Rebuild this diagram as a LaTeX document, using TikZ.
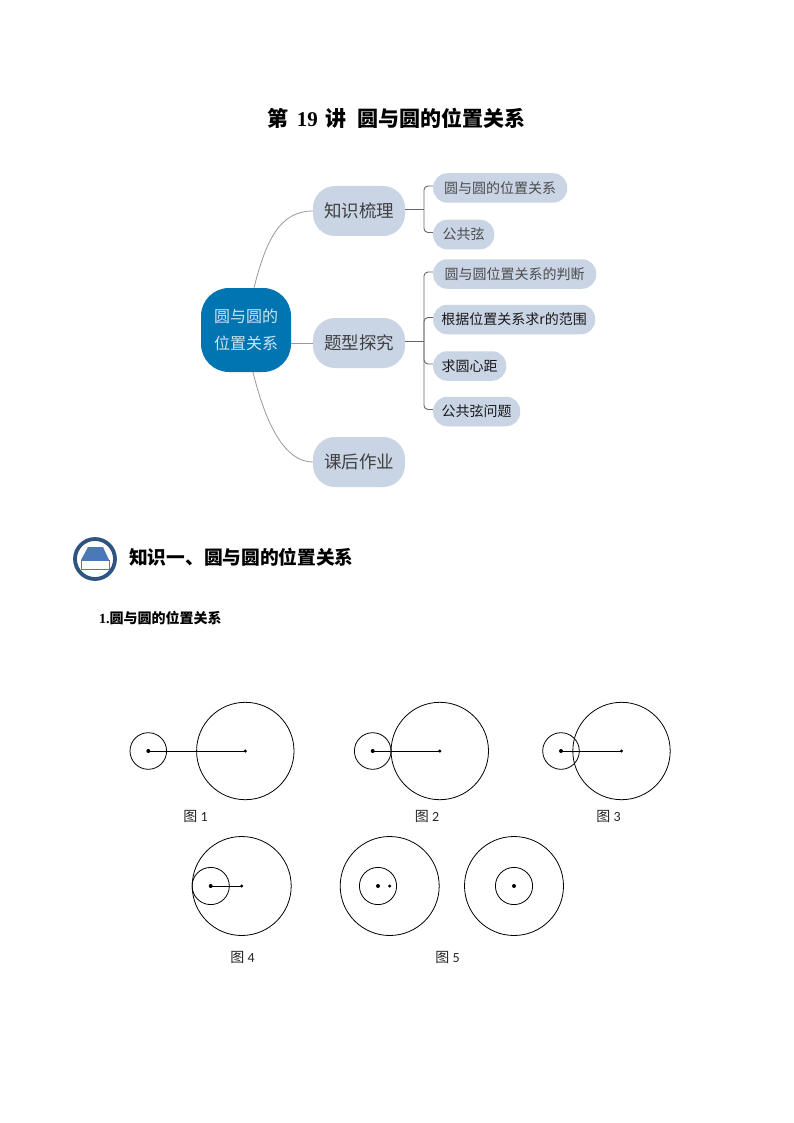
\documentclass[tikz,border=0pt]{standalone}
\usepackage{fontspec}
\setmainfont{Liberation Serif}
\newfontfamily\cjk{Noto Sans CJK SC}
\newfontfamily\capfont{Carlito}
\usepackage{xcolor}
\usetikzlibrary{positioning}
\definecolor{rootblue}{rgb}{0.0, 0.46, 0.70}
\definecolor{roottext}{rgb}{0.80, 0.90, 0.95}
\definecolor{paleblue}{rgb}{0.79, 0.83, 0.90}
\definecolor{ringblue}{rgb}{0.19, 0.33, 0.50}
\definecolor{iconblue}{rgb}{0.29, 0.47, 0.72}
\tikzset{
    rootbox/.style={fill=rootblue,rounded corners=28pt,minimum width=90pt,minimum height=84pt,
        inner sep=0pt,align=center,text=roottext,font=\cjk\fontsize{16}{27}\selectfont},
    midbox/.style={fill=paleblue,rounded corners=22pt,minimum width=92pt,minimum height=50pt,
        inner sep=0pt,text=black!75,font=\cjk\fontsize{17.5}{20}\selectfont},
    leafbox/.style={fill=paleblue,rounded corners=14pt,minimum width=#1,minimum height=29.5pt,
        inner sep=0pt,anchor=west,font=\cjk\fontsize{14}{16}\selectfont},
    curveline/.style={gray!80,line width=0.8pt},
    branchline/.style={black!60,line width=0.9pt,rounded corners=4pt},
    ring/.style={black,line width=0.8pt},
    captext/.style={inner sep=0pt,text=black!85,font=\capfont\fontsize{14}{15}\selectfont},
}
\begin{document}
\begin{tikzpicture}[x=1pt,y=-1pt]
\useasboundingbox[fill=white] (0,0) rectangle (794,1123);

% Title
\node[inner sep=0pt] (title) at (396.5,118) {\fontsize{21}{24}\selectfont\bfseries{\cjk 第}\hspace{8pt}19\hspace{8pt}{\cjk 讲}\hspace{10.5pt}{\cjk 圆与圆的位置关系}};

% Mind map boxes
\node[rootbox] (root) at (246,330) {圆与圆的\\位置关系};
\node[midbox] (zhishi) at (359,211) {知识梳理};
\node[midbox] (tixing) at (359,343) {题型探究};
\node[midbox] (kehou) at (359,462) {课后作业};

\foreach \name/\y/\w/\shade/\txt in {
    leafa/188/134pt/70/圆与圆的位置关系,
    leafb/234.5/61pt/70/公共弦,
    leafc/274/163pt/70/圆与圆位置关系的判断,
    leafd/319.5/162pt/90/根据位置关系求r的范围,
    leafe/366/73pt/90/求圆心距,
    leaff/411.5/87pt/90/公共弦问题}
    \node[leafbox=\w,text=black!\shade] (\name) at (433,\y) {\txt};

% Curved branches from the root
\draw[curveline] (root.north)++(8,0) .. controls (266,240) and (280,211) .. (zhishi.west);
\draw[curveline] (root.east |- tixing.west) -- (tixing.west);
\draw[curveline] (root.south)++(7,0) .. controls (266,425) and (285,462) .. (kehou.west);

% Square branches to the leaves
\coordinate (trunka) at (424,209.5);
\coordinate (trunkb) at (424,341.5);
\draw[branchline] ([yshift=1.5pt]zhishi.east) -- (trunka);
\draw[branchline] ([yshift=1.5pt]tixing.east) -- (trunkb);
\foreach \leaf in {leafa,leafb}
    \draw[branchline] (trunka) |- ([yshift=2pt]\leaf.west);
\foreach \leaf in {leafc,leafd,leafe,leaff}
    \draw[branchline] (trunkb) |- ([yshift=2pt]\leaf.west);

% Section icon
\coordinate (icon) at (95,559);
\draw[ringblue,line width=3.8pt,fill=white] (icon) circle (20pt);
\fill[iconblue] (88,547) -- (103,547) -- (109,560) -- (81,560) -- cycle;
\draw[iconblue,line width=1pt,fill=white] (81,560) rectangle (109,569.5);

% Section headings
\node[inner sep=0pt,anchor=west] (heading) at (129,557) {\cjk\bfseries\fontsize{18.7}{22}\selectfont 知识一、圆与圆的位置关系};
\node[inner sep=0pt,anchor=west] (subhead) at (99,618) {\fontsize{14}{16}\selectfont\bfseries 1.{\cjk 圆与圆的位置关系}};

% Circle pairs with a centre line
\foreach \n/\xs/\xb/\yy/\rs/\rb in {
    a/148.3/245.3/751/18.3/48.7,
    b/372.7/439.8/751/18.3/48.7,
    c/561/621.5/751/18.3/48.7,
    d/210.7/241.7/886/18.6/49.5}
{
    \coordinate (small\n) at (\xs,\yy);
    \coordinate (big\n) at (\xb,\yy);
    \draw[ring] (small\n) circle (\rs pt);
    \draw[ring] (big\n) circle (\rb pt);
    \draw[ring] (small\n) -- (big\n);
    \fill (small\n) circle (2pt);
    \fill (big\n) circle (1.7pt);
}

% Circles without a centre line
\coordinate (smalle) at (378,886);
\coordinate (bige) at (389.7,886);
\coordinate (midf) at (514,886);
\draw[ring] (bige) circle (49.5pt);
\draw[ring] (smalle) circle (18.6pt);
\fill (smalle) circle (2pt);
\fill (bige) circle (1.7pt);
\draw[ring] (midf) circle (49.5pt);
\draw[ring] (midf) circle (18.6pt);
\fill (midf) circle (2pt);

% Captions
\foreach \n/\x/\y/\k in {capa/195.5/816/1,capb/427/816/2,capc/608.5/816/3,capd/242.5/957/4,cape/447.5/957/5}
    \node[captext] (\n) at (\x,\y) {{\cjk 图} \k};
\end{tikzpicture}
\end{document}
